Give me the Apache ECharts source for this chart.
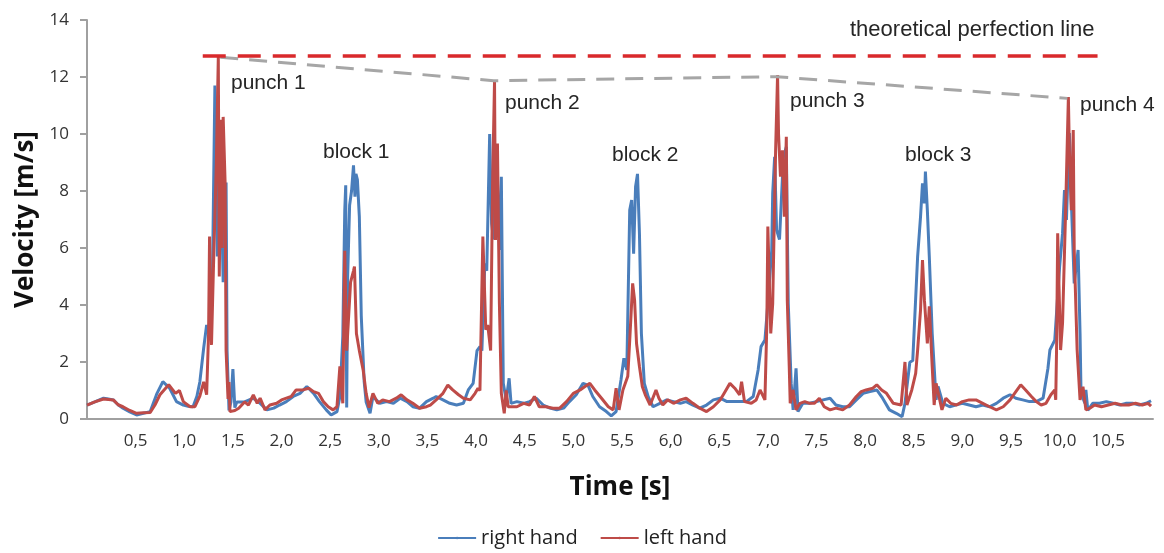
<!DOCTYPE html>
<html>
<head>
<meta charset="utf-8">
<title>Hand velocity</title>
<script src="https://cdn.jsdelivr.net/npm/echarts@6/dist/echarts.min.js"></script>
<style>
  html, body { margin: 0; padding: 0; background: #fff; }
  #chart { width: 1164px; height: 553px; }
</style>
</head>
<body>
<div id="chart"></div>
<script>
// time [s], velocity [m/s]
const rightHand = [
  [0, 0.49], [0.08, 0.6], [0.17, 0.73], [0.22, 0.7], [0.27, 0.67], [0.32, 0.5], [0.37, 0.38], [0.44, 0.25],
  [0.51, 0.14], [0.58, 0.2], [0.65, 0.26], [0.72, 0.9], [0.78, 1.31], [0.85, 1.08], [0.92, 0.61], [0.99, 0.49],
  [1.04, 0.45], [1.09, 0.43], [1.13, 0.8], [1.16, 1.3], [1.2, 2.5], [1.23, 3.3], [1.25, 3.0], [1.27, 3.8],
  [1.29, 5.0], [1.315, 11.7], [1.33, 10.0], [1.34, 5.7], [1.36, 9.8], [1.38, 8.3], [1.4, 4.8], [1.43, 8.3],
  [1.44, 2.4], [1.46, 0.3], [1.48, 0.6], [1.5, 1.75], [1.52, 0.4], [1.54, 0.6], [1.62, 0.6], [1.71, 0.73],
  [1.78, 0.55], [1.85, 0.32], [1.92, 0.38], [1.98, 0.49], [2.05, 0.61], [2.12, 0.79], [2.19, 0.9], [2.26, 1.14],
  [2.33, 0.9], [2.39, 0.61], [2.46, 0.32], [2.51, 0.14], [2.57, 0.26], [2.6, 0.78], [2.63, 2.9], [2.65, 7.3],
  [2.66, 8.2], [2.67, 0.4], [2.68, 5.0], [2.7, 7.5], [2.72, 8.0], [2.74, 8.9], [2.755, 7.8], [2.765, 8.6],
  [2.78, 8.4], [2.8, 7.1], [2.82, 3.6], [2.85, 1.3], [2.87, 0.6], [2.91, 0.2], [2.94, 0.79], [3.01, 0.55],
  [3.08, 0.61], [3.15, 0.55], [3.22, 0.73], [3.29, 0.61], [3.35, 0.43], [3.42, 0.38], [3.49, 0.61], [3.56, 0.73],
  [3.59, 0.79], [3.66, 0.67], [3.73, 0.55], [3.8, 0.49], [3.87, 0.55], [3.92, 1.02], [3.97, 1.25], [4.01, 2.4],
  [4.04, 2.54], [4.06, 2.4], [4.09, 5.46], [4.11, 5.2], [4.14, 10.0], [4.16, 6.86], [4.18, 6.3], [4.21, 9.55],
  [4.24, 5.93], [4.26, 8.5], [4.28, 1.25], [4.31, 0.67], [4.34, 1.43], [4.36, 0.55], [4.42, 0.61], [4.49, 0.55],
  [4.55, 0.61], [4.62, 0.73], [4.69, 0.49], [4.76, 0.38], [4.83, 0.32], [4.9, 0.38], [4.96, 0.61], [5.03, 0.85],
  [5.1, 1.25], [5.15, 1.19], [5.2, 0.79], [5.27, 0.43], [5.34, 0.26], [5.39, 0.11], [5.44, 0.26], [5.49, 1.37],
  [5.52, 2.13], [5.55, 1.72], [5.58, 7.33], [5.6, 7.68], [5.62, 5.8], [5.64, 8.15], [5.66, 8.6], [5.68, 6.5],
  [5.7, 3.0], [5.73, 1.25], [5.77, 0.78], [5.82, 0.43], [5.89, 0.55], [5.96, 0.67], [6.03, 0.61], [6.1, 0.55],
  [6.16, 0.61], [6.23, 0.49], [6.3, 0.38], [6.37, 0.49], [6.44, 0.67], [6.51, 0.73], [6.58, 0.61], [6.64, 0.61],
  [6.71, 0.61], [6.78, 0.61], [6.85, 0.79], [6.9, 1.72], [6.93, 2.54], [6.97, 2.77], [7.0, 4.05], [7.04, 5.93],
  [7.05, 7.92], [7.07, 9.2], [7.09, 6.63], [7.12, 6.3], [7.16, 9.2], [7.19, 9.55], [7.21, 4.05], [7.24, 1.25],
  [7.26, 0.32], [7.29, 1.78], [7.31, 0.26], [7.36, 0.55], [7.43, 0.55], [7.5, 0.61], [7.57, 0.67], [7.64, 0.73],
  [7.7, 0.49], [7.77, 0.43], [7.84, 0.43], [7.91, 0.67], [7.98, 0.9], [8.05, 0.96], [8.12, 1.02], [8.18, 0.73],
  [8.25, 0.32], [8.32, 0.2], [8.38, 0.08], [8.41, 0.55], [8.46, 1.99], [8.49, 2.05], [8.51, 2.0], [8.54, 5.7],
  [8.57, 7.1], [8.59, 8.27], [8.61, 7.57], [8.62, 8.68], [8.64, 7.33], [8.66, 5.7], [8.69, 3.0], [8.72, 1.25],
  [8.73, 0.67], [8.75, 1.14], [8.8, 0.55], [8.87, 0.43], [8.93, 0.49], [9.0, 0.55], [9.07, 0.49], [9.14, 0.43],
  [9.21, 0.49], [9.28, 0.43], [9.35, 0.55], [9.42, 0.73], [9.49, 0.85], [9.55, 0.73], [9.62, 0.67], [9.69, 0.61],
  [9.76, 0.61], [9.83, 0.73], [9.88, 1.78], [9.9, 2.42], [9.95, 2.77], [10.0, 5.35], [10.03, 6.52], [10.05, 8.03],
  [10.07, 6.98], [10.1, 10.03], [10.12, 7.68], [10.15, 4.76], [10.19, 5.93], [10.21, 3.0], [10.22, 0.9], [10.26, 0.55],
  [10.27, 1.02], [10.29, 0.3], [10.34, 0.55], [10.41, 0.55], [10.48, 0.61], [10.55, 0.55], [10.62, 0.49], [10.68, 0.55],
  [10.75, 0.55], [10.82, 0.49], [10.89, 0.55], [10.94, 0.64]
];

const leftHand = [
  [0, 0.49], [0.08, 0.6], [0.17, 0.7], [0.27, 0.67], [0.32, 0.5], [0.37, 0.43], [0.44, 0.3], [0.51, 0.2],
  [0.58, 0.22], [0.65, 0.23], [0.7, 0.5], [0.75, 0.85], [0.84, 1.2], [0.91, 0.9], [0.95, 1.0], [0.99, 0.61],
  [1.06, 0.43], [1.11, 0.43], [1.16, 0.8], [1.2, 1.3], [1.23, 0.85], [1.25, 3.0], [1.26, 6.4], [1.28, 2.6],
  [1.3, 5.3], [1.33, 9.0], [1.35, 12.7], [1.36, 5.0], [1.38, 10.5], [1.39, 6.0], [1.4, 10.6], [1.42, 8.3],
  [1.43, 2.4], [1.45, 0.7], [1.46, 1.3], [1.47, 0.26], [1.52, 0.3], [1.56, 0.38], [1.62, 0.6], [1.66, 0.49],
  [1.71, 0.85], [1.75, 0.55], [1.78, 0.73], [1.83, 0.32], [1.88, 0.49], [1.95, 0.55], [2.0, 0.67], [2.05, 0.73],
  [2.1, 0.79], [2.15, 1.02], [2.22, 1.02], [2.28, 1.08], [2.33, 0.96], [2.38, 0.9], [2.43, 0.61], [2.48, 0.43],
  [2.53, 0.32], [2.57, 0.43], [2.6, 1.85], [2.63, 0.55], [2.65, 5.9], [2.67, 2.4], [2.71, 4.8], [2.74, 5.2],
  [2.75, 5.35], [2.77, 3.0], [2.8, 2.4], [2.84, 1.7], [2.87, 0.9], [2.9, 0.4], [2.94, 0.9], [2.99, 0.55],
  [3.04, 0.67], [3.11, 0.61], [3.18, 0.73], [3.23, 0.85], [3.29, 0.67], [3.35, 0.55], [3.42, 0.38], [3.49, 0.43],
  [3.53, 0.49], [3.59, 0.67], [3.66, 0.9], [3.71, 1.19], [3.76, 1.02], [3.82, 0.85], [3.87, 0.73], [3.94, 0.67],
  [3.99, 0.9], [4.02, 1.08], [4.04, 1.0], [4.07, 6.4], [4.1, 3.13], [4.12, 3.3], [4.15, 2.4], [4.17, 8.27],
  [4.19, 11.87], [4.2, 6.28], [4.22, 9.67], [4.24, 4.05], [4.26, 0.9], [4.29, 0.2], [4.31, 1.0], [4.33, 0.43],
  [4.42, 0.43], [4.49, 0.55], [4.55, 0.49], [4.6, 0.79], [4.65, 0.43], [4.72, 0.43], [4.79, 0.38], [4.86, 0.38],
  [4.93, 0.61], [5.0, 0.9], [5.07, 1.02], [5.12, 1.14], [5.17, 1.25], [5.22, 1.02], [5.29, 0.73], [5.36, 0.43],
  [5.41, 0.32], [5.44, 1.08], [5.47, 0.32], [5.51, 1.02], [5.56, 1.5], [5.58, 2.77], [5.61, 4.76], [5.63, 4.17],
  [5.65, 2.65], [5.68, 1.84], [5.71, 1.13], [5.74, 0.85], [5.79, 0.49], [5.85, 1.02], [5.88, 0.73], [5.92, 0.49],
  [5.97, 0.67], [6.03, 0.55], [6.1, 0.67], [6.16, 0.73], [6.23, 0.55], [6.3, 0.38], [6.37, 0.26], [6.44, 0.43],
  [6.51, 0.67], [6.56, 0.96], [6.61, 1.25], [6.66, 1.08], [6.71, 0.85], [6.73, 1.31], [6.76, 0.61], [6.83, 0.55],
  [6.88, 0.67], [6.92, 1.02], [6.97, 0.67], [6.99, 3.36], [7.0, 6.75], [7.03, 3.0], [7.05, 4.05], [7.08, 9.43],
  [7.1, 12.07], [7.11, 10.0], [7.13, 8.5], [7.15, 9.43], [7.17, 7.1], [7.19, 9.9], [7.2, 4.17], [7.22, 1.84],
  [7.23, 0.55], [7.26, 1.02], [7.29, 0.32], [7.33, 0.55], [7.38, 0.61], [7.43, 0.55], [7.48, 0.55], [7.53, 0.73],
  [7.58, 0.43], [7.64, 0.32], [7.7, 0.38], [7.77, 0.32], [7.84, 0.49], [7.91, 0.79], [7.96, 0.96], [8.01, 1.02],
  [8.08, 1.08], [8.12, 1.2], [8.17, 1.02], [8.22, 0.9], [8.29, 0.55], [8.37, 0.49], [8.41, 2.0], [8.43, 0.49],
  [8.48, 1.02], [8.52, 1.6], [8.54, 2.42], [8.57, 3.83], [8.59, 5.58], [8.61, 4.17], [8.64, 2.65], [8.66, 3.95],
  [8.69, 1.84], [8.71, 0.49], [8.73, 1.25], [8.75, 1.25], [8.79, 0.32], [8.83, 0.73], [8.88, 0.55], [8.94, 0.49],
  [9.0, 0.61], [9.07, 0.67], [9.14, 0.67], [9.21, 0.55], [9.28, 0.43], [9.35, 0.32], [9.42, 0.43], [9.49, 0.67],
  [9.55, 0.96], [9.6, 1.2], [9.65, 1.02], [9.71, 0.79], [9.76, 0.61], [9.81, 0.49], [9.86, 0.55], [9.91, 0.85],
  [9.95, 1.02], [9.96, 0.67], [9.97, 2.77], [9.98, 6.52], [10.01, 2.42], [10.03, 3.36], [10.06, 7.1], [10.09, 11.3],
  [10.1, 9.43], [10.12, 7.33], [10.14, 10.14], [10.15, 5.93], [10.18, 2.42], [10.21, 0.67], [10.24, 1.13], [10.27, 0.32],
  [10.31, 0.38], [10.36, 0.49], [10.43, 0.43], [10.5, 0.49], [10.57, 0.55], [10.64, 0.49], [10.71, 0.49], [10.78, 0.55],
  [10.85, 0.49], [10.91, 0.55], [10.94, 0.45]
];

// dashed guides
const perfectionLine = [[1.19, 12.74], [10.39, 12.74]];
const punchPeaks = [[1.37, 12.69], [4.18, 11.87], [7.09, 12.01], [10.08, 11.25]];

const seriesNames = ["right hand", "left hand"];
const notes = ["punch 1", "block 1", "punch 2", "block 2", "punch 3", "block 3", "punch 4"];

const xMax = 10.96;
const yMax = 14;

let myChart = echarts.init(document.getElementById("chart"));

let noteLeft = [231, 323, 505, 612, 790, 905, 1080];
let noteTop = [84, 153, 104, 156, 102, 156, 106];
let _graphic = notes.map(function(t, i) {
  return {
    type: "text",
    left: noteLeft[i],
    top: noteTop[i] - 11,
    style: { text: t, font: "21px 'Liberation Sans', Arial, sans-serif", fill: "#262626" }
  };
});
_graphic.push({
  type: "text",
  left: 850,
  top: 19,
  style: { text: "theoretical perfection line", font: "22px 'Liberation Sans', Arial, sans-serif", fill: "#262626" }
});

let option = {
  animation: false,
  backgroundColor: "#fff",
  textStyle: { fontFamily: "'Open Sans', sans-serif" },
  grid: { left: 87, right: 11, top: 20, bottom: 134, containLabel: false },
  legend: {
    data: seriesNames,
    bottom: 0,
    left: "center",
    itemWidth: 38,
    itemHeight: 3,
    itemGap: 22,
    textStyle: { fontSize: 20, color: "#222", fontFamily: "'Open Sans', sans-serif" }
  },
  xAxis: {
    type: "value",
    min: 0,
    max: xMax,
    interval: 0.5,
    name: "Time [s]",
    nameLocation: "middle",
    nameGap: 56,
    nameTextStyle: { fontSize: 26, fontWeight: "bold", color: "#111" },
    axisLine: { lineStyle: { color: "#a0a0a0", width: 2 } },
    axisTick: { show: false },
    splitLine: { show: false },
    axisLabel: {
      margin: 14,
      fontSize: 17,
      color: "#333",
      showMinLabel: false,
      showMaxLabel: false,
      formatter: function(v) {
        return v.toFixed(1).replace(".", ",");
      }
    }
  },
  yAxis: {
    type: "value",
    min: 0,
    max: yMax,
    interval: 2,
    name: "Velocity [m/s]",
    nameLocation: "middle",
    nameGap: 47,
    nameTextStyle: { fontSize: 26, fontWeight: "bold", color: "#111" },
    axisLine: { show: true, lineStyle: { color: "#a0a0a0", width: 2 } },
    axisTick: { show: true, length: 7, lineStyle: { color: "#a0a0a0", width: 2 } },
    splitLine: { show: false },
    axisLabel: { margin: 18, fontSize: 17, color: "#333" }
  },
  graphic: _graphic,
  series: [
    {
      name: seriesNames[0],
      type: "line",
      data: rightHand,
      symbol: "none",
      color: "#4a7ebb",
      lineStyle: { width: 3, color: "#4a7ebb" },
      z: 2
    },
    {
      name: seriesNames[1],
      type: "line",
      data: leftHand,
      symbol: "none",
      color: "#be4b48",
      lineStyle: { width: 3, color: "#be4b48" },
      z: 3
    },
    {
      name: "peaks",
      type: "line",
      data: punchPeaks,
      symbol: "none",
      lineStyle: { width: 3, color: "#a6a6a6", type: [18, 11] },
      z: 4
    },
    {
      name: "perfection",
      type: "line",
      data: perfectionLine,
      symbol: "none",
      lineStyle: { width: 3.5, color: "#d9292b", type: [23, 12] },
      z: 5
    }
  ]
};
myChart.setOption(option);
</script>
</body>
</html>
